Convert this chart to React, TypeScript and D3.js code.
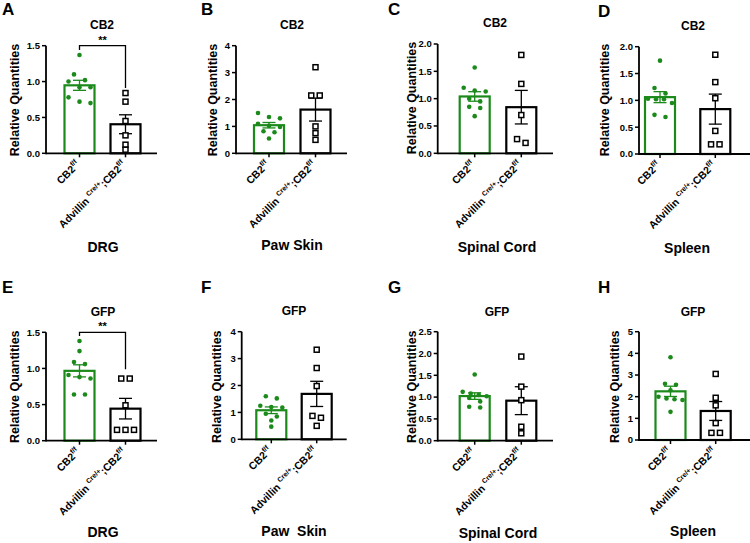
import React from "react";
import * as d3 from "d3";

// ---------- DATA ----------
const groups = ["CB2f/f", "AdvillinCre/+;CB2f/f"];
const panelLetters = ["A", "B", "C", "D", "E", "F", "G", "H"];
const panelGenes = ["CB2", "CB2", "CB2", "CB2", "GFP", "GFP", "GFP", "GFP"];
const panelTissues = ["DRG", "Paw Skin", "Spinal Cord", "Spleen", "DRG", "Paw  Skin", "Spinal Cord", "Spleen"];
const yMaxes = [1.5, 4, 2, 2, 1.5, 4, 2.5, 5];
const yTickSteps = [0.5, 1, 0.5, 0.5, 0.5, 1, 0.5, 1];

const ctrlA = [1.37, 1.10, 1.02, 1.0, 0.92, 0.92, 0.78, 0.72, 0.70];
const koA = [0.84, 0.72, 0.45, 0.25, 0.12, 0.05];
const ctrlB = [1.50, 1.35, 1.30, 1.10, 1.02, 0.98, 0.82, 0.78, 0.55];
const koB = [3.2, 2.15, 2.15, 1.0, 0.75, 0.5];
const ctrlC = [1.57, 1.20, 1.15, 1.13, 1.0, 0.95, 0.85, 0.83, 0.68];
const koC = [1.80, 1.27, 0.70, 0.26, 0.19];
const ctrlD = [1.74, 1.23, 1.13, 1.03, 1.02, 1.02, 0.95, 0.73, 0.69];
const koD = [1.85, 1.34, 1.04, 0.43, 0.18, 0.18];
const ctrlE = [1.38, 1.24, 1.09, 1.06, 0.91, 0.88, 0.86, 0.64, 0.64];
const koE = [0.86, 0.86, 0.49, 0.15, 0.15, 0.15];
const ctrlF = [1.60, 1.52, 1.25, 1.20, 1.18, 0.95, 0.85, 0.70, 0.47];
const koF = [3.33, 2.65, 1.98, 0.87, 0.8, 0.5];
const ctrlG = [1.52, 1.12, 1.08, 1.05, 1.02, 0.98, 0.90, 0.78, 0.76];
const koG = [1.93, 1.24, 0.93, 0.32, 0.17];
const ctrlH = [3.82, 2.60, 2.55, 2.30, 2.00, 1.92, 1.88, 1.85, 1.30];
const koH = [3.05, 1.95, 1.6, 0.78, 0.33, 0.33];

const ctrlSeries = [ctrlA, ctrlB, ctrlC, ctrlD, ctrlE, ctrlF, ctrlG, ctrlH];
const koSeries = [koA, koB, koC, koD, koE, koF, koG, koH];
const sigPanels = [0, 4];
const sigLabels = ["**", "**"];
const sigLeftVals = [1.44, 1.45];
const sigRightVals = [0.91, 0.99];

// ---------- LAYOUT ----------
const layout = [
  { ax: 46, top: 45.7, y0: 153.3, xEnd: 157, c: [79.5, 125.5], lx: 2, ly: 15, tx: 102, ty: 29, yl: 15, yly: 100, bx: 103, by: 252 },
  { ax: 236, top: 45.7, y0: 153.3, xEnd: 347, c: [269, 315.5], lx: 201, ly: 15, tx: 292, ty: 29, yl: 213, yly: 100, bx: 292, by: 250 },
  { ax: 437.7, top: 44, y0: 153.3, xEnd: 553, c: [474.7, 521.3], lx: 388, ly: 15, tx: 495, ty: 27, yl: 412, yly: 98, bx: 497, by: 252 },
  { ax: 639, top: 46.7, y0: 154, xEnd: 750, c: [660, 715.3], lx: 598, ly: 17, tx: 693, ty: 30, yl: 605, yly: 100, bx: 687, by: 253 },
  { ax: 46, top: 332.3, y0: 440.7, xEnd: 157, c: [79.5, 125.5], lx: 2, ly: 293, tx: 103, ty: 316, yl: 15, yly: 386.7, bx: 103, by: 537 },
  { ax: 241.7, top: 331.7, y0: 439.3, xEnd: 346.7, c: [271.3, 316.7], lx: 201, ly: 293, tx: 294, ty: 315, yl: 217, yly: 386.7, bx: 294, by: 536 },
  { ax: 437.7, top: 331.7, y0: 440.7, xEnd: 553, c: [474.7, 521.3], lx: 388, ly: 293, tx: 497, ty: 316, yl: 412, yly: 386.7, bx: 498, by: 538 },
  { ax: 639, top: 331.7, y0: 440, xEnd: 750, c: [670.5, 715.7], lx: 598, ly: 293, tx: 693, ty: 316, yl: 615, yly: 386.7, bx: 693, by: 536 },
];

const GREEN = "#1b8a1b";
const FONT = "'Liberation Sans', Arial, sans-serif";
const BAR_W = 30;

// GraphPad-like row scatter: points whose y positions are close share a row and are spread symmetrically
function rowScatter(values: number[], y: (v: number) => number, minGap: number, step: number, maxWidth: number) {
  const sorted = values.map((v) => ({ v, py: y(v) })).sort((a, b) => a.py - b.py);
  const rows: { v: number; py: number }[][] = [];
  for (const p of sorted) {
    const last = rows[rows.length - 1];
    if (last && p.py - last[0].py < minGap) last.push(p);
    else rows.push([p]);
  }
  const out: { x: number; y: number }[] = [];
  for (const r of rows) {
    const s = r.length > 1 ? Math.min(step, maxWidth / (r.length - 1)) : 0;
    r.forEach((p, k) => out.push({ x: (k - (r.length - 1) / 2) * s, y: p.py }));
  }
  return out;
}

function Label({ idx, x, y }: { idx: number; x: number; y: number }) {
  const common = { fontFamily: FONT, fontWeight: "bold" as const, fontSize: 10.5, textAnchor: "end" as const };
  return (
    <text transform={`translate(${x},${y}) rotate(-45)`} {...common}>
      {idx === 0 ? (
        <>
          <tspan>CB2</tspan>
          <tspan fontSize={7} dy={-4.5}>f/f</tspan>
        </>
      ) : (
        <>
          <tspan>Advillin </tspan>
          <tspan fontSize={7} dy={-4.5}>Cre/+</tspan>
          <tspan dy={4.5}>;CB2</tspan>
          <tspan fontSize={7} dy={-4.5}>f/f</tspan>
        </>
      )}
    </text>
  );
}

function Panel({ i }: { i: number }) {
  const L = layout[i];
  const y = d3.scaleLinear().domain([0, yMaxes[i]]).range([L.y0, L.top]);
  const x = d3.scalePoint<string>().domain(groups).range(L.c as [number, number]);
  const ticks = d3.range(0, yMaxes[i] + 1e-9, yTickSteps[i]);
  const fmt = yTickSteps[i] < 1 ? d3.format(".1f") : d3.format("d");
  const series = [ctrlSeries[i], koSeries[i]];
  const sIdx = sigPanels.indexOf(i);
  return (
    <g>
      <text x={L.lx} y={L.ly} fontFamily={FONT} fontWeight="bold" fontSize={17}>{panelLetters[i]}</text>
      <text x={L.tx} y={L.ty} fontFamily={FONT} fontWeight="bold" fontSize={12} textAnchor="middle">{panelGenes[i]}</text>
      <text x={L.bx} y={L.by} fontFamily={FONT} fontWeight="bold" fontSize={14} textAnchor="middle" style={{ whiteSpace: "pre" }}>{panelTissues[i]}</text>
      <text transform={`translate(${L.yl + 4},${L.yly}) rotate(-90)`} fontFamily={FONT} fontWeight="bold" fontSize={12.5} textAnchor="middle">Relative Quantities</text>
      {series.map((vals, g) => {
        const cx = x(groups[g])!;
        const mean = d3.mean(vals)!;
        const sem = d3.deviation(vals)! / Math.sqrt(vals.length);
        const col = g === 0 ? GREEN : "#000";
        const pts = g === 0 ? rowScatter(vals, y, 6, 11, 24) : rowScatter(vals, y, 5, 8.5, 18);
        return (
          <g key={g}>
            <rect x={cx - BAR_W / 2} y={y(mean)} width={BAR_W} height={L.y0 - y(mean)} fill="#fff" stroke={col} strokeWidth={2.2} />
            <line x1={cx} x2={cx} y1={y(mean - sem)} y2={y(mean + sem)} stroke={col} strokeWidth={1.3} />
            <line x1={cx - 6.5} x2={cx + 6.5} y1={y(mean + sem)} y2={y(mean + sem)} stroke={col} strokeWidth={1.3} />
            <line x1={cx - 6.5} x2={cx + 6.5} y1={y(mean - sem)} y2={y(mean - sem)} stroke={col} strokeWidth={1.3} />
            {pts.map((p, k) =>
              g === 0 ? (
                <circle key={k} cx={cx + p.x} cy={p.y} r={2.3} fill={GREEN} />
              ) : (
                <rect key={k} x={cx + p.x - 2.5} y={p.y - 2.5} width={5} height={5} fill="#fff" stroke="#000" strokeWidth={1.5} />
              )
            )}
            <line x1={cx} x2={cx} y1={L.y0} y2={L.y0 + 4} stroke="#000" strokeWidth={1.5} />
            <Label idx={g} x={cx + 1} y={L.y0 + 12} />
          </g>
        );
      })}
      <line x1={L.ax} x2={L.xEnd} y1={L.y0} y2={L.y0} stroke="#000" strokeWidth={1.8} />
      <line x1={L.ax} x2={L.ax} y1={L.y0 + 0.9} y2={L.top} stroke="#000" strokeWidth={1.8} />
      {ticks.map((t) => (
        <g key={t}>
          <line x1={L.ax - 4} x2={L.ax} y1={y(t)} y2={y(t)} stroke="#000" strokeWidth={1.5} />
          <text x={L.ax - 6} y={y(t)} dy="0.35em" fontFamily={FONT} fontWeight="bold" fontSize={9.5} textAnchor="end">{fmt(t)}</text>
        </g>
      ))}
      {sIdx >= 0 && (
        <g>
          <path
            d={`M${x(groups[0])},${y(sigLeftVals[sIdx])}V${y(yMaxes[i])}H${x(groups[1])}V${y(sigRightVals[sIdx])}`}
            fill="none"
            stroke="#000"
            strokeWidth={1.3}
          />
          <text x={(x(groups[0])! + x(groups[1])!) / 2} y={y(yMaxes[i]) - 2} fontFamily={FONT} fontWeight="bold" fontSize={11} textAnchor="middle">{sigLabels[sIdx]}</text>
        </g>
      )}
    </g>
  );
}

export default function App() {
  return (
    <svg width={750} height={543} style={{ position: "absolute", left: 0, top: 0, background: "#fff" }}>
      <rect width={750} height={543} fill="#fff" />
      {layout.map((_, i) => (
        <Panel key={i} i={i} />
      ))}
    </svg>
  );
}
